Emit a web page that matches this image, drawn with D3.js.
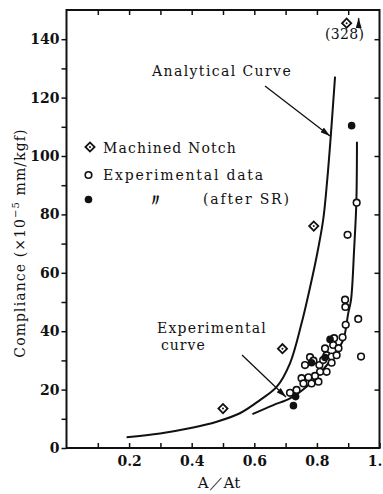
<!DOCTYPE html>
<html>
<head>
<meta charset="utf-8">
<script src="https://cdn.jsdelivr.net/npm/d3@7"></script>
<style>
  html, body { margin: 0; padding: 0; background: #fff; }
  text { font-family: "DejaVu Serif", "Liberation Serif", serif; fill: #111; }
</style>
</head>
<body>
<svg id="chart" width="383" height="494"></svg>
<script>
// Machined notch specimens (diamonds); the last one is off scale, value 328
const notchRatio = [0.50, 0.69, 0.79];
const notchComp  = [13.5, 34, 76];
const notchOff = { ratio: 0.895, value: 328, shownAt: 145.5 };

// Experimental data (open circles)
const expRatio = [0.927, 0.898, 0.890, 0.891, 0.892, 0.932, 0.941, 0.882, 0.855,
                  0.778, 0.789, 0.762, 0.808, 0.820, 0.831, 0.847, 0.863, 0.826, 0.852,
                  0.831, 0.810, 0.794, 0.805, 0.783, 0.773, 0.751, 0.757, 0.735, 0.714,
                  0.847, 0.869];
const expComp  = [84, 73, 50.8, 48.3, 42.2, 44.2, 31.3, 37.9, 37.6,
                  31.1, 29.9, 28.4, 28.4, 30.1, 31.8, 31.3, 31.8, 34.1, 35.3,
                  26.1, 26.1, 24.7, 22.7, 22.1, 24.2, 23.9, 22.1, 19.9, 18.9,
                  29.2, 34.2];

// Experimental data after SR (filled dots)
const srRatio = [0.911, 0.725, 0.732, 0.783, 0.826, 0.842];
const srComp  = [110.4, 14.5, 17.6, 29.2, 31.0, 37.2];

// Analytical curve
const anaRatio = [0.192, 0.299, 0.405, 0.480, 0.554, 0.618, 0.672, 0.714, 0.751, 0.769, 0.799, 0.820, 0.833, 0.844, 0.858];
const anaComp  = [3.7, 5.0, 7.0, 9.0, 11.9, 16.4, 21.0, 29.0, 42.7, 50.7, 65.5, 78.1, 91.8, 106.4, 127.2];

// Experimental curve
const fitRatio = [0.594, 0.661, 0.714, 0.767, 0.810, 0.852, 0.884, 0.900, 0.909, 0.919, 0.926, 0.928];
const fitComp  = [11.6, 14.7, 17.0, 21.0, 25.6, 31.3, 37.0, 46.1, 50.7, 68.2, 84.0, 104.9];

const yMajor = [0, 20, 40, 60, 80, 100, 120, 140];
const yMinor = [10, 30, 50, 70, 90, 110, 130];
const xMajor = [0.2, 0.4, 0.6, 0.8, 1.0];
const xMinor = [0.1, 0.3, 0.5, 0.7, 0.9];

const svg = d3.select("#chart");
const x = d3.scaleLinear().domain([0, 1]).range([66.5, 379.5]);
const y = d3.scaleLinear().domain([0, 150]).range([448, 10]);

const defs = svg.append("defs");
defs.append("marker")
    .attr("id", "head")
    .attr("viewBox", "0 0 10 6")
    .attr("refX", 10).attr("refY", 3)
    .attr("markerWidth", 10).attr("markerHeight", 6)
    .attr("markerUnits", "userSpaceOnUse")
    .attr("orient", "auto")
  .append("path")
    .attr("d", "M0,0 L10,3 L0,6 Z")
    .attr("fill", "#111");

// frame
svg.append("rect")
    .attr("x", x(0)).attr("y", y(150))
    .attr("width", x(1) - x(0)).attr("height", y(0) - y(150))
    .attr("fill", "none").attr("stroke", "#111").attr("stroke-width", 2);

// axes
const tickFont = g => g.selectAll("text")
    .style("font-family", "'DejaVu Serif', serif")
    .style("font-size", "14px").style("font-weight", "bold");

const bottom = svg.append("g").attr("transform", `translate(0,${y(0)})`)
    .call(d3.axisBottom(x).tickValues(xMajor).tickSize(-5).tickPadding(8).tickFormat(d3.format(".1f")));
bottom.call(tickFont);
svg.append("g").attr("transform", `translate(0,${y(0)})`)
    .call(d3.axisBottom(x).tickValues(xMinor).tickSize(-5).tickFormat(""));
svg.append("g").attr("transform", `translate(0,${y(150)})`)
    .call(d3.axisTop(x).tickValues(xMajor.concat(xMinor).filter(d => d < 1)).tickSize(-5).tickFormat(""));

const left = svg.append("g").attr("transform", `translate(${x(0)},0)`)
    .call(d3.axisLeft(y).tickValues(yMajor).tickSize(5).tickPadding(2).tickFormat(d3.format("d")));
left.call(tickFont);
svg.append("g").attr("transform", `translate(${x(0)},0)`)
    .call(d3.axisLeft(y).tickValues(yMinor).tickSize(5).tickFormat(""));
svg.append("g").attr("transform", `translate(${x(1)},0)`)
    .call(d3.axisRight(y).tickValues(yMajor.filter(d => d > 0)).tickSize(-5).tickFormat(""));

svg.selectAll(".domain").remove();
svg.selectAll(".tick line").attr("stroke", "#111").attr("stroke-width", 1.5);

// axis titles
svg.append("text")
    .attr("x", 219).attr("y", 488)
    .attr("text-anchor", "middle")
    .style("font-size", "15px")
    .text("A／At");

const yt = svg.append("text")
    .attr("transform", "translate(25,243) rotate(-90)")
    .attr("text-anchor", "middle")
    .style("font-size", "14px")
    .style("letter-spacing", "1.1px");
yt.append("tspan").text("Compliance (×10");
yt.append("tspan").attr("dy", -6).style("font-size", "10px").text("−5");
yt.append("tspan").attr("dy", 6).text(" mm/kgf)");

// curves
const line = d3.line().x(d => x(d[0])).y(d => y(d[1])).curve(d3.curveCatmullRom.alpha(0.5));
svg.append("path")
    .datum(d3.zip(anaRatio, anaComp))
    .attr("d", line)
    .attr("fill", "none").attr("stroke", "#111").attr("stroke-width", 2);
svg.append("path")
    .datum(d3.zip(fitRatio, fitComp))
    .attr("d", line)
    .attr("fill", "none").attr("stroke", "#111").attr("stroke-width", 2);

// markers
const diamond = d3.symbol().type(d3.symbolSquare).size(42);
function drawDiamond(cx, cy) {
    svg.append("path")
        .attr("d", diamond())
        .attr("transform", `translate(${cx},${cy}) rotate(45)`)
        .attr("fill", "#fff").attr("stroke", "#111").attr("stroke-width", 1.8);
    svg.append("circle").attr("cx", cx).attr("cy", cy).attr("r", 1).attr("fill", "#111");
}

svg.append("g").selectAll("circle")
    .data(d3.zip(expRatio, expComp))
    .join("circle")
    .attr("cx", d => x(d[0])).attr("cy", d => y(d[1]))
    .attr("r", 3.3)
    .attr("fill", "#fff").attr("stroke", "#111").attr("stroke-width", 1.6);

svg.append("g").selectAll("circle")
    .data(d3.zip(srRatio, srComp))
    .join("circle")
    .attr("cx", d => x(d[0])).attr("cy", d => y(d[1]))
    .attr("r", 3.8)
    .attr("fill", "#111");

d3.zip(notchRatio, notchComp).forEach(d => drawDiamond(x(d[0]), y(d[1])));
drawDiamond(x(notchOff.ratio), y(notchOff.shownAt));

// off-scale marker: up arrow and value
svg.append("line")
    .attr("x1", x(notchOff.ratio) + 12).attr("y1", y(notchOff.shownAt) + 5)
    .attr("x2", x(notchOff.ratio) + 12).attr("y2", y(notchOff.shownAt) - 5)
    .attr("stroke", "#111").attr("stroke-width", 1.5)
    .attr("marker-end", "url(#head)");
svg.append("text")
    .attr("x", x(notchOff.ratio) - 2).attr("y", y(notchOff.shownAt) + 16)
    .attr("text-anchor", "middle")
    .style("font-size", "14px").style("letter-spacing", "0.3px")
    .text(`(${notchOff.value})`);

// annotations
svg.append("text").attr("x", 152).attr("y", 76)
    .style("font-size", "14px").style("letter-spacing", "1.4px")
    .text("Analytical Curve");
svg.append("line")
    .attr("x1", 265).attr("y1", 86).attr("x2", 330).attr("y2", 136)
    .attr("stroke", "#111").attr("stroke-width", 1.3)
    .attr("marker-end", "url(#head)");

svg.append("text").attr("x", 157).attr("y", 333)
    .style("font-size", "14px").style("letter-spacing", "1.2px")
    .text("Experimental");
svg.append("text").attr("x", 161).attr("y", 350)
    .style("font-size", "14px").style("letter-spacing", "1px")
    .text("curve");
svg.append("line")
    .attr("x1", 242).attr("y1", 355).attr("x2", 286).attr("y2", 397)
    .attr("stroke", "#111").attr("stroke-width", 1.3)
    .attr("marker-end", "url(#head)");

// legend
drawDiamond(90, 147);
svg.append("text").attr("x", 103).attr("y", 153)
    .style("font-size", "14px").style("letter-spacing", "1.15px")
    .text("Machined Notch");
svg.append("circle").attr("cx", 88.5).attr("cy", 175).attr("r", 3.3)
    .attr("fill", "#fff").attr("stroke", "#111").attr("stroke-width", 1.6);
svg.append("text").attr("x", 103).attr("y", 180)
    .style("font-size", "14px").style("letter-spacing", "1.8px")
    .text("Experimental data");
svg.append("circle").attr("cx", 88.5).attr("cy", 199.5).attr("r", 3.8).attr("fill", "#111");
svg.append("text").attr("x", 155).attr("y", 206)
    .attr("text-anchor", "middle")
    .style("font-size", "17px").style("font-weight", "bold")
    .text("〃");
svg.append("text").attr("x", 203).attr("y", 204)
    .style("font-size", "14px").style("letter-spacing", "1.8px")
    .text("(after SR)");
</script>
</body>
</html>
